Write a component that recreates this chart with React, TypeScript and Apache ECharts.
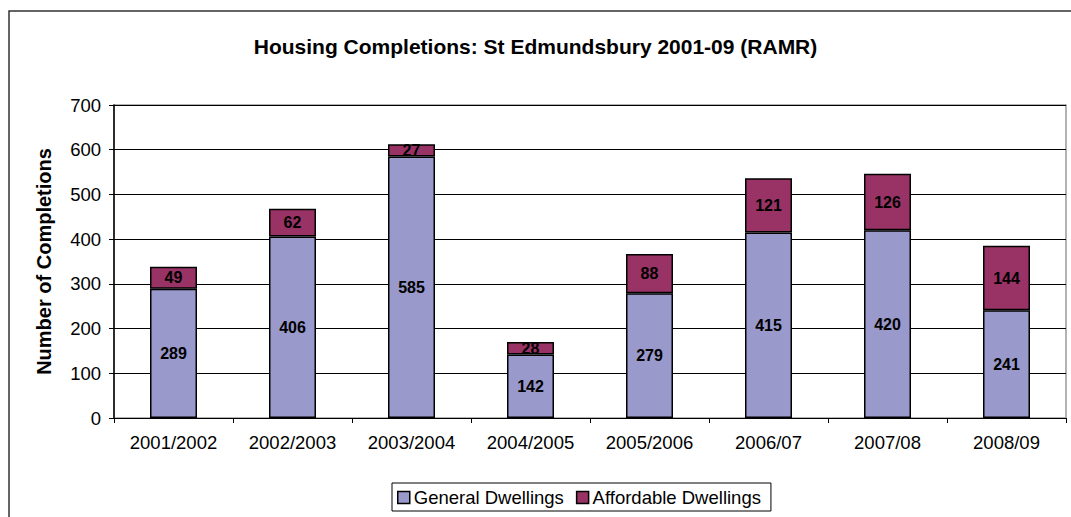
import React, { useEffect, useRef } from "react";
import * as echarts from "echarts";

const categories = ["2001/2002", "2002/2003", "2003/2004", "2004/2005", "2005/2006", "2006/07", "2007/08", "2008/09"];
const general = [289, 406, 585, 142, 279, 415, 420, 241];
const affordable = [49, 62, 27, 28, 88, 121, 126, 144];
const yTicks = { min: 0, max: 700, interval: 100 };

export default function App() {
  const ref = useRef<HTMLDivElement>(null);
  useEffect(() => {
    const chart = echarts.init(ref.current!, null, { renderer: "svg" });
    const font = "Liberation Sans, Arial, sans-serif";
    const label = { show: true, position: "inside", color: "#000", fontWeight: "bold", fontSize: 16, fontFamily: font };
    chart.setOption({
      animation: false,
      backgroundColor: "#fff",
      textStyle: { fontFamily: font },
      title: {
        text: "Housing Completions: St Edmundsbury 2001-09 (RAMR)",
        left: "center",
        top: 31,
        textStyle: { fontSize: 21, fontWeight: "bold", color: "#000", fontFamily: font },
      },
      graphic: [
        { type: "rect", shape: { x: 9, y: 11, width: 1100, height: 600 }, style: { fill: "none", stroke: "#333", lineWidth: 1.5 }, silent: true },
      ],
      grid: { left: 114, right: 5, top: 105, bottom: 99, show: true, borderColor: "#999", borderWidth: 1.5, containLabel: false },
      legend: {
        bottom: 6,
        left: 392,
        itemWidth: 12,
        itemHeight: 12,
        itemGap: 12,
        padding: [5, 10, 4, 5],
        borderColor: "#000",
        borderWidth: 1,
        textStyle: { fontSize: 18.5, color: "#000", fontFamily: font, padding: [0, 0, 0, -1] },
        data: [
          { name: "General Dwellings", icon: "rect", itemStyle: { borderColor: "#000", borderWidth: 1.5 } },
          { name: "Affordable Dwellings", icon: "rect", itemStyle: { borderColor: "#000", borderWidth: 1.5 } },
        ],
      },
      xAxis: {
        type: "category",
        data: categories,
        axisLine: { lineStyle: { color: "#000", width: 1 } },
        axisTick: { show: true, length: 5, alignWithLabel: false, lineStyle: { color: "#000" } },
        axisLabel: { fontSize: 18.5, color: "#000", margin: 15, fontFamily: font },
      },
      yAxis: {
        type: "value",
        min: yTicks.min,
        max: yTicks.max,
        interval: yTicks.interval,
        name: "Number of Completions",
        nameLocation: "middle",
        nameGap: 60,
        nameTextStyle: { fontSize: 20, fontWeight: "bold", color: "#000", fontFamily: font },
        axisLine: { show: true, lineStyle: { color: "#000", width: 1.5 } },
        axisTick: { show: true, length: 5, lineStyle: { color: "#000" } },
        axisLabel: { fontSize: 18.5, color: "#000", margin: 13, fontFamily: font },
        splitLine: { show: true, lineStyle: { color: "#000", width: 1 } },
      },
      series: [
        {
          name: "General Dwellings",
          type: "bar",
          stack: "total",
          barWidth: 47,
          data: general,
          itemStyle: { color: "#9999CC", borderColor: "#000", borderWidth: 1.5 },
          label,
        },
        {
          name: "Affordable Dwellings",
          type: "bar",
          stack: "total",
          barWidth: 47,
          data: affordable,
          itemStyle: { color: "#993366", borderColor: "#000", borderWidth: 1.5 },
          label,
        },
      ],
    });
    return () => chart.dispose();
  }, []);
  return <div ref={ref} style={{ position: "absolute", left: 0, top: 0, width: 1071, height: 517 }} />;
}
